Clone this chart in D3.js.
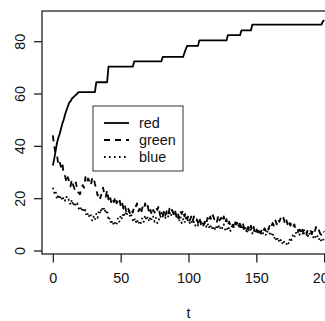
<!DOCTYPE html>
<html>
<head>
<meta charset="utf-8">
<script src="https://cdn.jsdelivr.net/npm/d3@7/dist/d3.min.js"></script>
<style>
  html, body { margin: 0; padding: 0; background: #fff; }
  svg { display: block; }
  text { font-family: "Liberation Sans", Arial, sans-serif; fill: #111; }
</style>
</head>
<body>
<script>
// Three series observed at t = 0 … 200
const red = [
  32.5, 35, 38, 41, 43, 44.5, 46.5, 48.5, 50, 52,
  53.5, 55, 56.5, 57, 58, 58.5, 59, 59.5, 60, 60.5,
  60.5, 60.5, 60.5, 60.5, 60.5, 60.5, 60.5, 60.5, 60.5, 60.5,
  60.5, 60.5, 64.3, 64.3, 64.3, 64.3, 64.3, 64.3, 64.3, 64.3,
  64.3, 70.3, 70.3, 70.3, 70.3, 70.3, 70.3, 70.3, 70.3, 70.3,
  70.3, 70.3, 70.3, 70.3, 70.3, 70.3, 70.3, 70.3, 70.3, 70.3,
  72.3, 72.3, 72.3, 72.3, 72.3, 72.3, 72.3, 72.3, 72.3, 72.3,
  72.3, 72.3, 72.3, 72.3, 72.3, 72.3, 72.3, 72.3, 72.3, 72.3,
  72.3, 74, 74, 74, 74, 74, 74, 74, 74, 74,
  74, 74, 74, 74, 74, 74, 74, 75.5, 77, 78.2,
  78.2, 78.2, 78.2, 78.2, 78.2, 78.2, 78.2, 78.2, 80.3, 80.3,
  80.3, 80.3, 80.3, 80.3, 80.3, 80.3, 80.3, 80.3, 80.3, 80.3,
  80.3, 80.3, 80.3, 80.3, 80.3, 80.3, 80.3, 80.3, 80.3, 82.3,
  82.3, 82.3, 82.3, 82.3, 82.3, 82.3, 82.3, 82.3, 82.3, 84.1,
  84.1, 84.1, 84.1, 84.1, 84.1, 84.1, 84.1, 86.3, 86.3, 86.3,
  86.3, 86.3, 86.3, 86.3, 86.3, 86.3, 86.3, 86.3, 86.3, 86.3,
  86.3, 86.3, 86.3, 86.3, 86.3, 86.3, 86.3, 86.3, 86.3, 86.3,
  86.3, 86.3, 86.3, 86.3, 86.3, 86.3, 86.3, 86.3, 86.3, 86.3,
  86.3, 86.3, 86.3, 86.3, 86.3, 86.3, 86.3, 86.3, 86.3, 86.3,
  86.3, 86.3, 86.3, 86.3, 86.3, 86.3, 86.3, 86.3, 86.3, 87.5,
  88.1
];

const green = [
  44, 40, 37, 36.5, 33, 34, 32, 33.5, 29, 28.5,
  26, 28, 26.5, 24.5, 27, 25, 23.5, 26, 23, 22,
  21.5, 23.5, 25, 24, 28, 26, 27.5, 26.5, 25, 27.5,
  28, 25.5, 23.5, 21, 22, 20, 22, 24, 21.5, 20.5,
  23, 19.5, 21, 18.5, 20, 18.5, 20.5, 18, 19, 20,
  17, 18.5, 16, 17.5, 15, 16.5, 15.5, 14, 15.5, 14.5,
  17, 16.5, 18, 15, 16, 14, 16.5, 15.5, 18, 16,
  17, 14, 15.5, 13.5, 15.5, 14.5, 16.5, 15.5, 17, 13.5,
  14.5, 13, 15.5, 13.5, 15, 13.5, 16, 14.5, 15.5, 14,
  15.5, 13, 14.5, 12.5, 15, 14, 15.5, 13, 14.5, 12,
  13.5, 11.5, 13, 11, 13, 11.5, 12, 10.5, 12.5, 10.5,
  11.5, 9.5, 11, 10, 12.5, 11, 13, 11.5, 13.5, 12,
  12.5, 11, 13.5, 11.5, 12.5, 11, 13, 10.5, 12, 9.5,
  11, 9.5, 10.5, 9, 11.5, 10, 10.5, 8.5, 10, 9,
  10.5, 8.5, 9.5, 8, 9, 7.5, 9.5, 7.5, 9, 7,
  8.5, 7, 8.5, 6.5, 8, 7, 8.5, 7.5, 9, 8,
  10, 9, 10.5, 9.5, 11.5, 10, 12, 11, 12.5, 11.5,
  12.5, 10.5, 12, 10, 11.5, 9.5, 10.5, 9, 10, 8,
  8.5, 7.5, 8, 6.5, 8, 6.5, 7.5, 6, 8, 7,
  7.5, 6.5, 8, 7, 9, 7.5, 8, 6.5, 6, 7.5,
  7
];

const blue = [
  24, 22, 23, 19.5, 21.5, 19.5, 21, 19, 20.5, 19,
  20.5, 19, 19.5, 17.5, 19.5, 17, 18.5, 17, 18, 16,
  17, 15, 16.5, 14.5, 15.5, 13, 14.5, 12.5, 13.5, 11.5,
  13, 11.5, 14, 12.5, 15.5, 14, 16.5, 15, 16.5, 14,
  15.5, 11.5, 12.5, 10, 11.5, 9.5, 11, 10, 12.5, 11,
  13.5, 12, 14.5, 13, 15, 13.5, 15, 12.5, 13.5, 11.5,
  12.5, 10.5, 12, 10, 11.5, 10.5, 12.5, 11, 13.5, 11.5,
  13, 11, 13, 11.5, 13, 11, 12.5, 10.5, 12, 11.5,
  14.5, 13, 15, 12.5, 14.5, 13, 14.5, 13, 15.5, 14,
  15, 12.5, 13.5, 11, 13, 10.5, 12, 10.5, 12.5, 11,
  12, 10.5, 11.5, 10, 11, 9.5, 11.5, 9.5, 11.5, 10,
  11, 9.5, 10.5, 9, 10.5, 8.5, 10, 8, 9.5, 7.5,
  9.5, 8, 10, 8, 9.5, 8.5, 10, 8, 9, 7.5,
  9, 7.5, 9.5, 8.5, 10.5, 9.5, 11, 9, 10.5, 8,
  9.5, 7.5, 9, 6.5, 8.5, 7, 8, 6.5, 8, 6.5,
  7.5, 6.5, 8, 6, 7.5, 6.5, 8, 6, 7.5, 6,
  6.5, 5.5, 7, 4.5, 5.5, 3.5, 5, 3, 4, 2.5,
  4, 2.5, 2.1, 3.5, 2.5, 5, 4, 6, 5, 7,
  6, 7.5, 6, 7.5, 6, 8, 6.5, 7, 5.5, 7,
  5.5, 6.5, 5, 6, 4.5, 5.5, 4, 5, 3.5, 4.5,
  3.5
];

const seriesNames = ["red", "green", "blue"];
const seriesDash = ["none", "6,5", "1.6,3.4"];
const xTicks = [0, 50, 100, 150, 200];
const yTicks = [0, 20, 40, 60, 80];
const xLabel = "t";

const W = 325, H = 321;
const plot = { left: 42, right: 335, top: 11, bottom: 254 };

const svg = d3.select("body").append("svg")
  .attr("width", W).attr("height", H);

// Pad both domains by 4% on each side
function padded(lo, hi) {
  const d = (hi - lo) * 0.04;
  return [lo - d, hi + d];
}
const allSeries = [red, green, blue];
const allVals = allSeries.flat();
const x = d3.scaleLinear()
  .domain(padded(0, red.length - 1))
  .range([plot.left, plot.right]);
const y = d3.scaleLinear()
  .domain(padded(d3.min(allVals), d3.max(allVals)))
  .range([plot.bottom, plot.top]);

// Lines
const line = d3.line().x((d, i) => x(i)).y(d => y(d));
const lines = svg.append("g");
allSeries.forEach((s, k) => {
  lines.append("path")
    .datum(s)
    .attr("d", line)
    .attr("fill", "none")
    .attr("stroke", "#000")
    .attr("stroke-width", 1.8)
    .attr("stroke-dasharray", seriesDash[k])
    .attr("stroke-linejoin", "round");
});

// Plot frame
svg.append("rect")
  .attr("x", plot.left).attr("y", plot.top)
  .attr("width", plot.right - plot.left)
  .attr("height", plot.bottom - plot.top)
  .attr("fill", "none").attr("stroke", "#222").attr("stroke-width", 1.3);

// X axis
const xAxis = d3.axisBottom(x).tickValues(xTicks).tickSize(8.5).tickPadding(10);
const gx = svg.append("g").attr("transform", `translate(0,${plot.bottom})`).call(xAxis);
gx.select(".domain").remove();
gx.selectAll(".tick line").attr("stroke", "#222").attr("stroke-width", 1.3);
gx.selectAll(".tick text")
  .attr("font-size", "14.4px").attr("fill", "#111")
  .attr("font-family", "Liberation Sans, Arial, sans-serif")
  .attr("dy", "0.71em");

// Y axis (labels turned to read upward)
const yAxis = d3.axisLeft(y).tickValues(yTicks).tickSize(8).tickFormat(d3.format("d"));
const gy = svg.append("g").attr("transform", `translate(${plot.left},0)`).call(yAxis);
gy.select(".domain").remove();
gy.selectAll(".tick line").attr("stroke", "#222").attr("stroke-width", 1.3);
gy.selectAll(".tick text")
  .attr("font-size", "14.4px").attr("fill", "#111")
  .attr("font-family", "Liberation Sans, Arial, sans-serif")
  .attr("x", null).attr("dy", null)
  .attr("text-anchor", "middle")
  .attr("transform", "translate(-17,0) rotate(-90)");

// Axis title
svg.append("text")
  .attr("x", x(100)).attr("y", 318)
  .attr("text-anchor", "middle")
  .attr("font-size", "14.4px")
  .text(xLabel);

// Legend
const lg = svg.append("g").attr("transform", "translate(93,106)");
lg.append("rect")
  .attr("width", 90).attr("height", 65)
  .attr("fill", "#fff").attr("stroke", "#333").attr("stroke-width", 1);
seriesNames.forEach((name, k) => {
  const cy = 17 + k * 17;
  lg.append("line")
    .attr("x1", 11).attr("x2", 36)
    .attr("y1", cy).attr("y2", cy)
    .attr("stroke", "#000").attr("stroke-width", 1.8)
    .attr("stroke-dasharray", seriesDash[k]);
  lg.append("text")
    .attr("x", 46).attr("y", cy + 5.3)
    .attr("font-size", "14.4px")
    .text(name);
});
</script>
</body>
</html>
